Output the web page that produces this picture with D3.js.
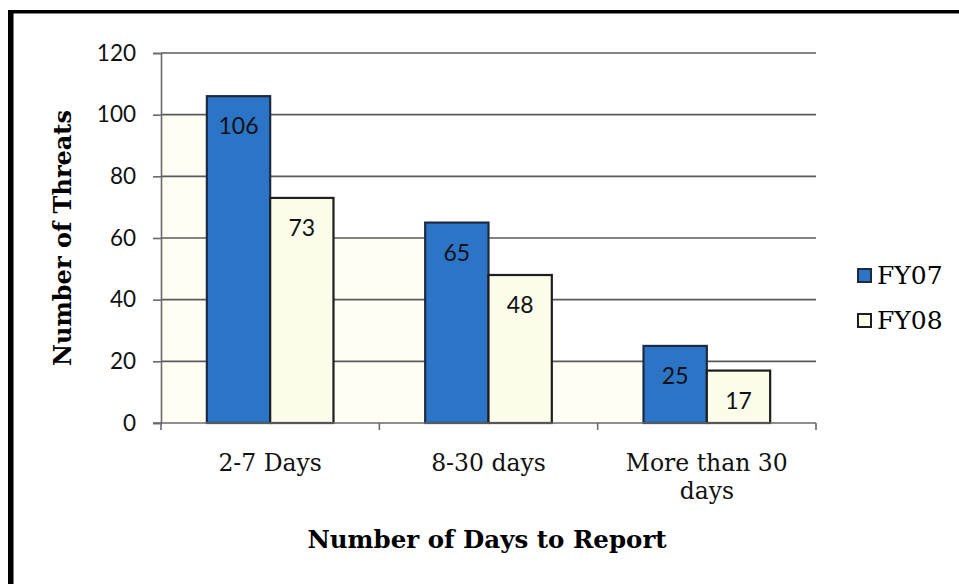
<!DOCTYPE html>
<html>
<head>
<meta charset="utf-8">
<script src="https://cdn.jsdelivr.net/npm/d3@7"></script>
<style>
  html, body { margin: 0; padding: 0; background: #fff; }
  svg { display: block; }
</style>
</head>
<body>
<svg id="chart" width="959" height="584"></svg>
<script>
// Threat reports by number of days taken to report
const categories = ["2-7 Days", "8-30 days", "More than 30 days"];
const categoryLines = [["2-7 Days"], ["8-30 days"], ["More than 30", "days"]];
const seriesNames = ["FY07", "FY08"];
const fy07 = [106, 65, 25];
const fy08 = [73, 48, 17];
const yTicks = [0, 20, 40, 60, 80, 100, 120];

const colors = { FY07: "#2b74c6", FY08: "#fbfce9" };
const outline = { FY07: "#1c2b40", FY08: "#1e1e1e" };

const svg = d3.select("#chart");
const W = 959, H = 584;

// frame around the figure (top and left edges)
svg.append("rect").attr("x", 8).attr("y", 10).attr("width", 5.5).attr("height", H - 10).attr("fill", "#000");
svg.append("rect").attr("x", 8).attr("y", 10).attr("width", W - 8).attr("height", 3.5).attr("fill", "#000");

const plot = { left: 161, right: 816, top: 53, bottom: 423 };

const x0 = d3.scaleBand().domain(categories)
  .range([plot.left, plot.right]).paddingInner(0.42).paddingOuter(0.21);
const x1 = d3.scaleBand().domain(seriesNames).range([0, x0.bandwidth()]).padding(0);
const y = d3.scaleLinear().domain([0, 120]).range([plot.bottom, plot.top]);

const rows = categories.map((c, i) => ({ cat: c, lines: categoryLines[i], FY07: fy07[i], FY08: fy08[i] }));

// cream backdrop in the gaps to the left of each group, stepped to the gridline beneath the FY07 bar
const backdrop = svg.append("g");
rows.forEach((d, i) => {
  const xStart = i === 0 ? plot.left : x0(categories[i - 1]) + x0.bandwidth();
  const xEnd = x0(d.cat);
  const level = Math.floor(d.FY07 / 20) * 20;
  backdrop.append("rect")
    .attr("x", xStart).attr("y", y(level))
    .attr("width", xEnd - xStart).attr("height", y(0) - y(level))
    .attr("fill", "#fefef4");
});

// horizontal gridlines
svg.append("g").selectAll("line").data(yTicks.filter(t => t > 0)).join("line")
  .attr("x1", plot.left).attr("x2", plot.right)
  .attr("y1", d => y(d)).attr("y2", d => y(d))
  .attr("stroke", "#5a5a5a").attr("stroke-width", 1.6);

// y axis
const yAxis = svg.append("g").attr("transform", `translate(${plot.left},0)`)
  .call(d3.axisLeft(y).tickValues(yTicks).tickSize(8).tickPadding(17));
yAxis.select(".domain").attr("stroke", "#6a6a6a").attr("stroke-width", 1.6);
yAxis.selectAll(".tick line").attr("stroke", "#6a6a6a").attr("stroke-width", 1.6);
yAxis.selectAll(".tick text")
  .attr("font-family", "Lato, 'Open Sans', sans-serif").attr("font-size", 22.5)
  .attr("fill", "#111");

// bars
const groups = svg.append("g").selectAll("g").data(rows).join("g")
  .attr("transform", d => `translate(${x0(d.cat)},0)`);

groups.selectAll("rect").data(d => seriesNames.map(s => ({ s, v: d[s] }))).join("rect")
  .attr("x", d => x1(d.s)).attr("y", d => y(d.v))
  .attr("width", x1.bandwidth()).attr("height", d => y(0) - y(d.v))
  .attr("fill", d => colors[d.s]).attr("stroke", d => outline[d.s]).attr("stroke-width", 2.2);

groups.selectAll("text").data(d => seriesNames.map(s => ({ s, v: d[s] }))).join("text")
  .attr("x", d => x1(d.s) + x1.bandwidth() / 2).attr("y", d => y(d.v) + 38)
  .attr("text-anchor", "middle")
  .attr("font-family", "Lato, 'Open Sans', sans-serif").attr("font-size", 23)
  .attr("fill", "#111")
  .text(d => d.v);

// x axis with ticks at category boundaries
const xAxisG = svg.append("g");
xAxisG.append("line").attr("x1", plot.left - 8).attr("x2", plot.right)
  .attr("y1", y(0)).attr("y2", y(0)).attr("stroke", "#6a6a6a").attr("stroke-width", 1.6);
const step = (plot.right - plot.left) / categories.length;
xAxisG.selectAll("line.tk").data(d3.range(categories.length + 1)).join("line").attr("class", "tk")
  .attr("x1", i => plot.left + i * step).attr("x2", i => plot.left + i * step)
  .attr("y1", y(0)).attr("y2", y(0) + 7).attr("stroke", "#6a6a6a").attr("stroke-width", 1.6);

// category labels
const catLabels = svg.append("g").selectAll("text").data(rows).join("text")
  .attr("x", d => x0(d.cat) + x0.bandwidth() / 2).attr("y", 471)
  .attr("text-anchor", "middle")
  .attr("font-family", "'DejaVu Serif', serif").attr("font-size", 23.5)
  .attr("fill", "#111");
catLabels.selectAll("tspan").data(d => d.lines).join("tspan")
  .attr("x", function () { return d3.select(this.parentNode).attr("x"); })
  .attr("dy", (d, i) => i === 0 ? 0 : 28)
  .text(d => d);

// axis titles
svg.append("text")
  .attr("x", 487).attr("y", 548)
  .attr("text-anchor", "middle")
  .attr("font-family", "'DejaVu Serif', serif").attr("font-weight", "bold").attr("font-size", 24.5)
  .attr("fill", "#000")
  .text("Number of Days to Report");

svg.append("text")
  .attr("transform", `translate(71,${(plot.top + plot.bottom) / 2}) rotate(-90)`)
  .attr("text-anchor", "middle")
  .attr("font-family", "'DejaVu Serif', serif").attr("font-weight", "bold").attr("font-size", 24)
  .attr("fill", "#000")
  .text("Number of Threats");

// legend
const legend = svg.append("g").selectAll("g").data(seriesNames).join("g")
  .attr("transform", (d, i) => `translate(858,${269 + i * 45})`);
legend.append("rect").attr("width", 13).attr("height", 13)
  .attr("fill", d => colors[d]).attr("stroke", d => outline[d]).attr("stroke-width", 2);
legend.append("text").attr("x", 19).attr("y", 15)
  .attr("font-family", "'DejaVu Serif', serif").attr("font-size", 25).attr("fill", "#000")
  .text(d => d);
</script>
</body>
</html>
